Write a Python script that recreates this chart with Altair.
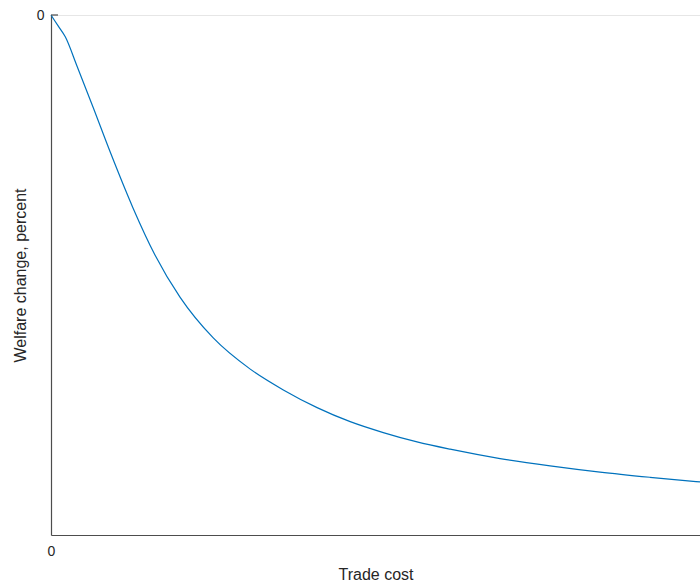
import altair as alt
import pandas as pd

# Welfare change (percent, scaled) as trade cost rises from zero
trade_cost = [0.0, 0.011, 0.022, 0.040, 0.065, 0.092, 0.126, 0.160, 0.199,
              0.250, 0.307, 0.358, 0.410, 0.461, 0.512, 0.564, 0.615, 0.692,
              0.769, 0.846, 0.923, 1.0]
welfare_change = [0.0, -0.021, -0.042, -0.098, -0.178, -0.266, -0.370, -0.461,
                  -0.543, -0.621, -0.681, -0.721, -0.755, -0.782, -0.803,
                  -0.821, -0.835, -0.853, -0.867, -0.879, -0.889, -0.898]

x_ticks = [0]
y_ticks = [0]

df = pd.DataFrame({"cost": trade_cost, "welfare": welfare_change})

FONT = "Liberation Sans"
TEXT = "#262626"
AXIS = "#4d4d4d"

line = alt.Chart(df).mark_line(color="#0072BD", strokeWidth=1.2, interpolate="monotone").encode(
    x=alt.X(
        "cost:Q",
        title="Trade cost",
        scale=alt.Scale(domain=[0, 1], nice=False, zero=False),
        axis=alt.Axis(
            values=x_ticks, format="d", grid=False, ticks=False, tickSize=0,
            labelFlush=False, labelPadding=9, titlePadding=8,
            labelFontSize=14, titleFontSize=16,
            titleFontWeight="normal", labelColor=TEXT, titleColor=TEXT,
            domainColor=AXIS, domainWidth=1.2, labelFont=FONT, titleFont=FONT,
        ),
    ),
    y=alt.Y(
        "welfare:Q",
        title="Welfare change, percent",
        scale=alt.Scale(domain=[-1, 0], nice=False, zero=False),
        axis=alt.Axis(
            values=y_ticks, format="d", grid=True, gridColor="#e6e6e6", gridWidth=1.2,
            ticks=False, tickSize=0, labelFlush=False, labelPadding=7, titlePadding=8,
            labelFontSize=14, titleFontSize=16, titleFontWeight="normal",
            labelColor=TEXT, titleColor=TEXT, domainColor=AXIS, domainWidth=1.2,
            labelFont=FONT, titleFont=FONT,
        ),
    ),
)

# short inward tick at the top of the vertical axis
top_tick = alt.Chart(pd.DataFrame({"welfare": y_ticks})).mark_rule(
    color=AXIS, strokeWidth=1.2
).encode(
    y=alt.Y("welfare:Q", scale=alt.Scale(domain=[-1, 0], nice=False, zero=False)),
    x=alt.value(0),
    x2=alt.value(7),
)

chart = (
    alt.layer(line, top_tick)
    .properties(
        width=649,
        height=520,
        padding={"left": 51, "top": 15, "right": 0, "bottom": 50},
        autosize=alt.AutoSizeParams(type="none"),
        background="white",
    )
    .configure_view(stroke=None)
)

chart.save("out.html", embed_options={"renderer": "svg", "actions": False})
